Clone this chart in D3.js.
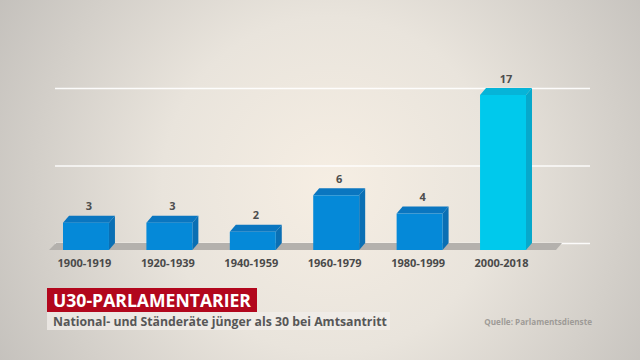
<!DOCTYPE html>
<html>
<head>
<meta charset="utf-8">
<script src="https://cdn.jsdelivr.net/npm/d3@7"></script>
<style>
  html, body { margin: 0; padding: 0; background: #d8d4ce; }
  svg { display: block; font-family: 'Open Sans', sans-serif; }
</style>
</head>
<body>
<div id="chart"></div>
<script>
// data
const categories = ['1900-1919', '1920-1939', '1940-1959', '1960-1979', '1980-1999', '2000-2018']
const values = [3, 3, 2, 6, 4, 17]
const gridValues = [0, 8.5, 17]
const highlight = '2000-2018'

const title = 'U30-PARLAMENTARIER'
const subtitle = 'National- und Ständeräte jünger als 30 bei Amtsantritt'
const source = 'Quelle: Parlamentsdienste'

const width = 640
const height = 360
const depthX = 6
const depthY = 7

let svg = d3.select('#chart').append('svg')
  .attr('width', width)
  .attr('height', height)

let defs = svg.append('defs')
let grad = defs.append('radialGradient')
  .attr('id', 'bg')
  .attr('gradientUnits', 'userSpaceOnUse')
  .attr('cx', 330).attr('cy', 185).attr('r', 420)
grad.append('stop').attr('offset', '0%').attr('stop-color', '#f6eee3')
grad.append('stop').attr('offset', '40%').attr('stop-color', '#e9e4dc')
grad.append('stop').attr('offset', '100%').attr('stop-color', '#bdbab6')

svg.append('rect')
  .attr('width', width).attr('height', height)
  .attr('fill', 'url(#bg)')

let x = d3.scaleBand()
  .domain(categories)
  .range([63, 526])
  .paddingInner(0.449)
  .paddingOuter(0)

let y = d3.scaleLinear()
  .domain([0, 17])
  .range([250, 95])

// gridlines sit on the back plane
svg.append('g').attr('class', 'grid')
  .selectAll('line')
  .data(gridValues)
  .enter().append('line')
  .attr('x1', 55)
  .attr('x2', 590)
  .attr('y1', d => y(d) - depthY + 0.5)
  .attr('y2', d => y(d) - depthY + 0.5)
  .attr('stroke', '#ffffff')
  .attr('stroke-width', 1.4)
  .attr('stroke-opacity', 0.9)

// floor
const fx0 = 49
const fx1 = 556
svg.append('path')
  .attr('d', `M${fx0},${y(0)} L${fx0 + depthX + 1},${y(0) - depthY} L${fx1 + depthX},${y(0) - depthY} L${fx1},${y(0)} Z`)
  .attr('fill', '#b4b1ad')

const colors = {
  base: { front: '#0589d8', top: '#0a76c0', side: '#0a6fb4' },
  hi: { front: '#00c9ec', top: '#06b4d8', side: '#07a8cb' }
}

let bars = svg.append('g').attr('class', 'bars')
  .selectAll('g')
  .data(categories.map((c, i) => ({ cat: c, value: values[i] })))
  .enter().append('g')

bars.append('path')
  .attr('d', d => {
    let x0 = x(d.cat) + x.bandwidth()
    let y0 = y(d.value)
    let y1 = y(0)
    return `M${x0},${y0} L${x0 + depthX},${y0 - depthY} L${x0 + depthX},${y1 - depthY} L${x0},${y1} Z`
  })
  .attr('fill', d => d.cat === highlight ? colors.hi.side : colors.base.side)

bars.append('path')
  .attr('d', d => {
    let x0 = x(d.cat)
    let x1 = x0 + x.bandwidth()
    let y0 = y(d.value)
    return `M${x0},${y0} L${x0 + depthX},${y0 - depthY} L${x1 + depthX},${y0 - depthY} L${x1},${y0} Z`
  })
  .attr('fill', d => d.cat === highlight ? colors.hi.top : colors.base.top)

bars.append('rect')
  .attr('x', d => x(d.cat))
  .attr('y', d => y(d.value))
  .attr('width', x.bandwidth())
  .attr('height', d => y(0) - y(d.value))
  .attr('fill', d => d.cat === highlight ? colors.hi.front : colors.base.front)

bars.append('text')
  .attr('x', d => x(d.cat) + x.bandwidth() / 2 + depthX / 2)
  .attr('y', d => y(d.value) - 12.5)
  .attr('text-anchor', 'middle')
  .attr('font-size', 11)
  .attr('font-weight', 700)
  .attr('fill', '#4d4d4d')
  .text(d => d.value)

// category labels
svg.append('g').attr('class', 'xlabels')
  .selectAll('text')
  .data(categories)
  .enter().append('text')
  .attr('x', d => x(d) + x.bandwidth() / 2 - 1.5)
  .attr('y', 267)
  .attr('text-anchor', 'middle')
  .attr('font-size', 11)
  .attr('font-weight', 700)
  .attr('fill', '#4a4a4a')
  .text(d => d)

// shrink or grow a text to a target width by font size
function fit (sel, target) {
  let w = sel.node().getComputedTextLength()
  let fs = parseFloat(sel.attr('font-size'))
  sel.attr('font-size', (fs * target / w).toFixed(2))
}

// title block
svg.append('rect')
  .attr('x', 47).attr('y', 288)
  .attr('width', 210).attr('height', 24)
  .attr('fill', '#b2071d')
let t = svg.append('text')
  .attr('x', 53).attr('y', 306.5)
  .attr('font-size', 17)
  .attr('font-weight', 700)
  .attr('fill', '#ffffff')
  .text(title)
fit(t, 198)

svg.append('rect')
  .attr('x', 47).attr('y', 312)
  .attr('width', 343).attr('height', 18)
  .attr('fill', '#f1eee9')
  .attr('fill-opacity', 0.75)
let st = svg.append('text')
  .attr('x', 53).attr('y', 326)
  .attr('font-size', 13)
  .attr('font-weight', 700)
  .attr('fill', '#575757')
  .text(subtitle)
fit(st, 334)

let src = svg.append('text')
  .attr('x', 592).attr('y', 325)
  .attr('text-anchor', 'end')
  .attr('font-size', 9.5)
  .attr('font-weight', 700)
  .attr('fill', '#9e9b97')
  .text(source)
fit(src, 108)
</script>
</body>
</html>
